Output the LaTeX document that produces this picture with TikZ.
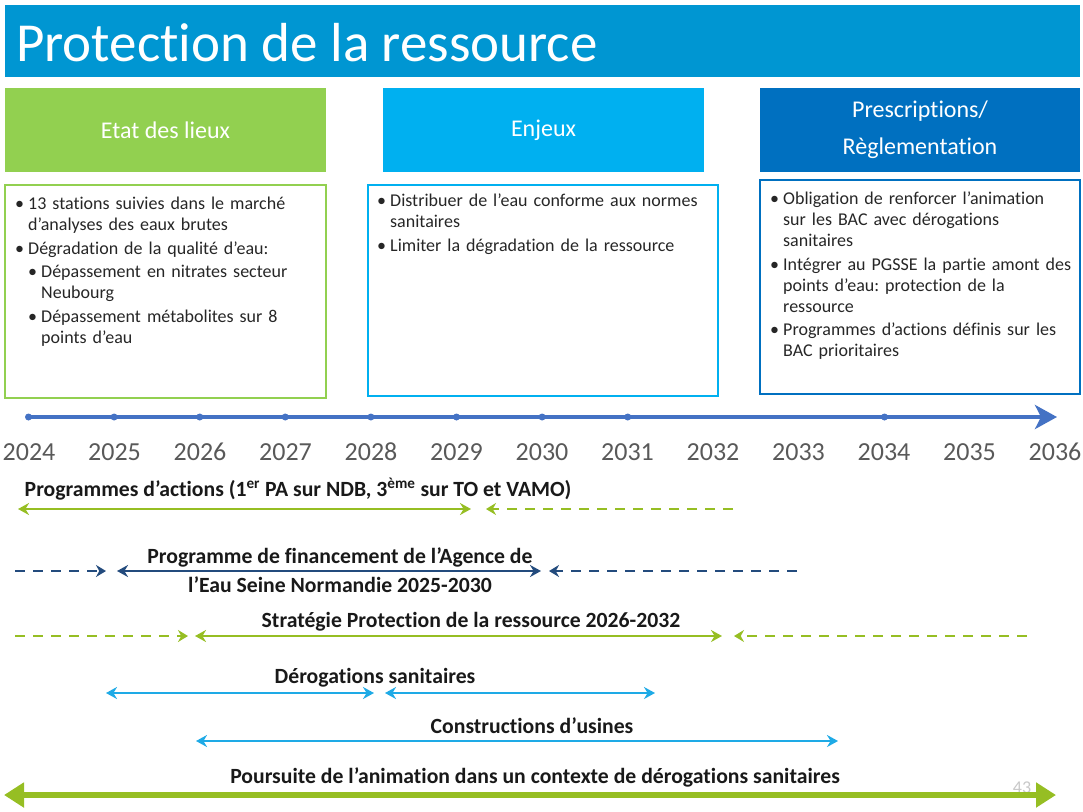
\documentclass[tikz,border=0pt]{standalone}
\usepackage{fontspec}
\setmainfont{Carlito}[Ligatures=NoCommon]
\usetikzlibrary{arrows.meta}
\frenchspacing
\definecolor{titleblue}{RGB}{0,150,210}
\definecolor{hgreen}{RGB}{146,208,80}
\definecolor{hblue}{RGB}{0,176,240}
\definecolor{hdark}{RGB}{0,112,192}
\definecolor{tlblue}{RGB}{68,114,196}
\definecolor{agreen}{RGB}{150,190,35}
\definecolor{anavy}{RGB}{35,75,125}
\definecolor{alight}{RGB}{30,170,230}
\definecolor{yeargray}{RGB}{89,89,89}
\definecolor{pagegray}{RGB}{200,200,200}
\newcommand\bi[1]{\par\vspace{2.5pt}\hangindent=13pt\hangafter=1\noindent\makebox[13pt][l]{\textbullet}#1}
\newcommand\sbi[1]{\par\vspace{2.5pt}\hangindent=26pt\hangafter=1\noindent\hspace*{13pt}\makebox[13pt][l]{\textbullet}#1}
\tikzset{
  hdr/.style={fill=#1, text=white, font=\fontsize{24}{37}\selectfont, align=center, inner sep=0pt, minimum height=84pt},
  tbox/.style={draw=#1, line width=2.5pt, inner sep=0pt, minimum width=0pt},
  btext/.style={anchor=north west, inner sep=0pt, font=\fontsize{18}{21}\selectfont, text=black!85},
  yearlbl/.style={font=\fontsize{26}{26}\selectfont, text=yeargray, inner sep=0pt},
  lbl/.style={font=\bfseries\fontsize{21.7}{29}\selectfont, inner sep=0pt, align=center, text=black!90},
  solidarr/.style={draw=#1, line width=2.6pt, {Stealth[length=11pt,width=12pt]}-{Stealth[length=11pt,width=12pt]}},
  dashr/.style={draw=#1, line width=2.6pt, dash pattern=on 10pt off 8pt, -{Stealth[length=10pt,width=12pt]}},
  tdot/.style={circle, fill=tlblue, inner sep=0pt, minimum size=7pt}
}
\begin{document}
\begin{tikzpicture}[x=1pt,y=-1pt]
\useasboundingbox (0,0) rectangle (1083,811);
% title
\node[fill=titleblue, minimum width=1075pt, minimum height=72pt, inner sep=0pt] (title) at (542.5,41) {};
\node[anchor=west, text=white, font=\fontsize{55}{55}\selectfont, inner sep=0pt] (titletxt) at (16,43) {Protection de la ressource};
% headers
\node[hdr=hgreen, minimum width=321pt] (h1) at (165.5,130) {Etat des lieux};
\node[hdr=hblue, minimum width=321pt] (h2) at (543.5,130) {Enjeux};
\node[hdr=hdark, minimum width=320pt] (h3) at (920,130) {Prescriptions/\\Règlementation};
% boxes
\node[tbox=hgreen, minimum width=321pt, minimum height=213pt] (b1) at (165.5,291.5) {};
\node[tbox=hblue, minimum width=350pt, minimum height=211pt] (b2) at (543,290.5) {};
\node[tbox=hdark, minimum width=320pt, minimum height=214pt] (b3) at (920,287) {};
\node[btext, text width=305pt] (t1) at (15,186) {\raggedright
\bi{13 stations suivies dans le marché\newline d’analyses des eaux brutes}
\bi{Dégradation de la qualité d’eau:}
\sbi{Dépassement en nitrates secteur\newline Neubourg}
\sbi{Dépassement métabolites sur 8\newline points d’eau}\par};
\node[btext, text width=335pt] (t2) at (377,183) {\raggedright
\bi{Distribuer de l’eau conforme aux normes\newline sanitaires}
\bi{Limiter la dégradation de la ressource}\par};
\node[btext, text width=305pt] (t3) at (770,181) {\raggedright
\bi{Obligation de renforcer l’animation\newline sur les BAC avec dérogations\newline sanitaires}
\bi{Intégrer au PGSSE la partie amont des\newline points d’eau: protection de la\newline ressource}
\bi{Programmes d’actions définis sur les\newline BAC prioritaires}\par};
% timeline
\coordinate (tlstart) at (27,417);
\coordinate (tlend) at (1057,417);
\draw[tlblue, line width=4pt, -{Stealth[length=22pt,width=24pt,inset=6pt]}] (tlstart) -- (tlend);
\foreach \y in {2024,2025,2026,2027,2028,2029,2030,2031,2034}{
  \node[tdot] (d\y) at ({28.5+85.6*(\y-2024)},417) {};
}
\foreach \y in {2024,...,2036}{
  \node[yearlbl] (yl\y) at ({29+85.5*(\y-2024)},452) {\y};
}
% row 1
\node[lbl] (l1) at (298,489) {Programmes d’actions (1\textsuperscript{er} PA sur NDB, 3\textsuperscript{ème} sur TO et VAMO)};
\coordinate (r1a) at (18,509); \coordinate (r1b) at (471,509);
\coordinate (r1c) at (733,509); \coordinate (r1d) at (486,509);
\draw[solidarr=agreen] (r1a) -- (r1b);
\draw[dashr=agreen] (r1c) -- (r1d);
% row 2
\node[lbl] (l2) at (340,570.5) {Programme de financement de l’Agence de\\l’Eau Seine Normandie 2025-2030};
\coordinate (r2a) at (15,571); \coordinate (r2b) at (106,571);
\coordinate (r2c) at (117,571); \coordinate (r2d) at (541,571);
\coordinate (r2e) at (797,571); \coordinate (r2f) at (549,571);
\draw[dashr=anavy] (r2a) -- (r2b);
\draw[solidarr=anavy] (r2c) -- (r2d);
\draw[dashr=anavy] (r2e) -- (r2f);
% row 3
\node[lbl] (l3) at (471,622) {Stratégie Protection de la ressource 2026-2032};
\coordinate (r3a) at (15,636); \coordinate (r3b) at (188,636);
\coordinate (r3c) at (195,636); \coordinate (r3d) at (722,636);
\coordinate (r3e) at (1027,636); \coordinate (r3f) at (734,636);
\draw[dashr=agreen] (r3a) -- (r3b);
\draw[solidarr=agreen] (r3c) -- (r3d);
\draw[dashr=agreen] (r3e) -- (r3f);
% row 4
\node[lbl] (l4) at (375,678) {Dérogations sanitaires};
\coordinate (r4a) at (106,693); \coordinate (r4b) at (374,693);
\coordinate (r4c) at (385,693); \coordinate (r4d) at (655,693);
\draw[solidarr=alight, line width=2.2pt] (r4a) -- (r4b);
\draw[solidarr=alight, line width=2.2pt] (r4c) -- (r4d);
% row 5
\node[lbl] (l5) at (532,726) {Constructions d’usines};
\coordinate (r5a) at (196,741); \coordinate (r5b) at (838,741);
\draw[solidarr=alight, line width=2.2pt] (r5a) -- (r5b);
% row 6
\node[lbl] (l6) at (535,777) {Poursuite de l’animation dans un contexte de dérogations sanitaires};
\node[text=pagegray, font=\fontsize{18}{18}\selectfont, inner sep=0pt] (pg) at (1022,788) {43};
\coordinate (r6a) at (4,795); \coordinate (r6b) at (1056,795);
\draw[agreen, line width=6pt, {Triangle[length=20pt,width=24pt]}-{Triangle[length=20pt,width=24pt]}] (r6a) -- (r6b);
\end{tikzpicture}
\end{document}
